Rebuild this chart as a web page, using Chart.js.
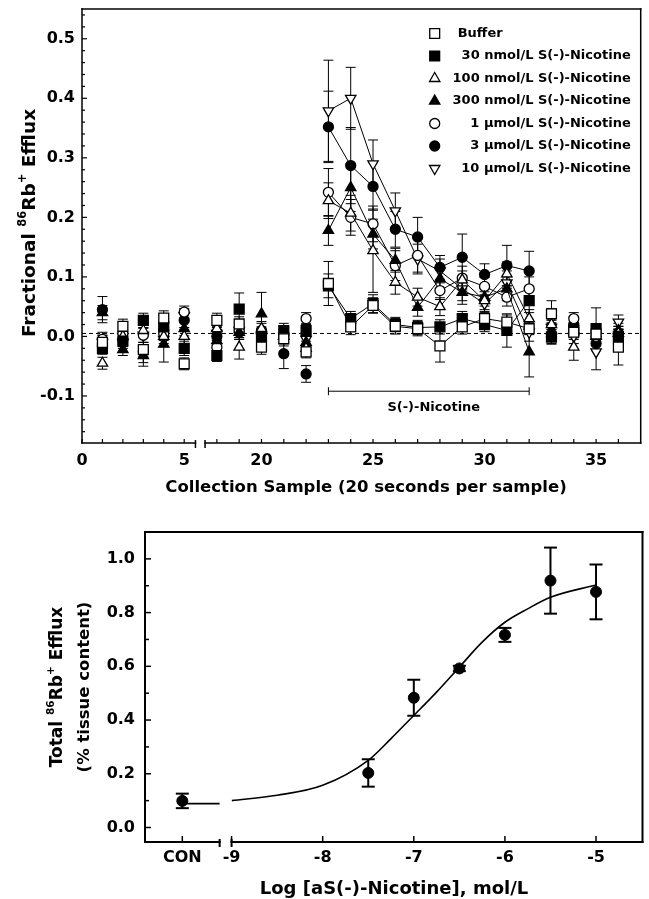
<!DOCTYPE html>
<html>
<head>
<meta charset="utf-8">
<title>86Rb+ efflux</title>
<script src="https://cdn.jsdelivr.net/npm/chart.js@4.4.1/dist/chart.umd.min.js"></script>
<style>
  body { margin: 0; background: #fff; }
  canvas { position: absolute; left: 0; }
  #effluxChart { top: 0; }
  #doseChart { top: 505px; }
</style>
</head>
<body>
<canvas id="effluxChart" width="649" height="505"></canvas>
<canvas id="doseChart" width="649" height="394"></canvas>
<script>
// ---------- TOP PANEL: fractional efflux per collection sample ----------
const samples = [1, 2, 3, 4, 5, 18, 19, 20, 21, 22, 23, 24, 25, 26, 27, 28, 29, 30, 31, 32, 33, 34, 35, 36];
const nicotineOn = 23;
const nicotineOff = 32;
const baselineLevel = 0.005;

const seriesLabels = ["Buffer", "30 nmol/L S(-)-Nicotine", "100 nmol/L S(-)-Nicotine", "300 nmol/L S(-)-Nicotine",
  "1 \u00b5mol/L S(-)-Nicotine", "3 \u00b5mol/L S(-)-Nicotine", "10 \u00b5mol/L S(-)-Nicotine"];

//                   1      2      3      4      5      18     19     20     21     22     23     24     25     26     27     28     29     30     31     32     33     34     35     36
const buffer      = [-0.010, 0.017,-0.022, 0.031,-0.046, 0.027, 0.021,-0.018,-0.004,-0.026, 0.089, 0.016, 0.052, 0.017, 0.013,-0.016, 0.016, 0.030, 0.024, 0.013, 0.038, 0.007, 0.004,-0.018];
const bufferErr   = [0.012, 0.012, 0.012, 0.012, 0.010, 0.012, 0.012, 0.012, 0.012, 0.010, 0.037, 0.013, 0.013, 0.013, 0.012, 0.027, 0.012, 0.012, 0.012, 0.010, 0.022, 0.012, 0.012, 0.030];
const nic30       = [-0.020,-0.008, 0.027, 0.016,-0.020,-0.032, 0.046, 0.000, 0.010, 0.010, 0.085, 0.030, 0.055, 0.020, 0.015, 0.016, 0.030, 0.020, 0.010, 0.060,-0.001, 0.010, 0.013, 0.000];
const nic30Err    = [0.010, 0.012, 0.012, 0.012, 0.012, 0.010, 0.027, 0.012, 0.012, 0.012, 0.020, 0.012, 0.015, 0.012, 0.012, 0.012, 0.012, 0.012, 0.028, 0.020, 0.012, 0.012, 0.035, 0.012];
const nic100      = [-0.045, 0.000, 0.010, 0.000, 0.000, 0.013,-0.018, 0.013, 0.000,-0.020, 0.228, 0.207, 0.144, 0.091, 0.066, 0.050, 0.095, 0.060, 0.105, 0.030, 0.020,-0.018, 0.000, 0.005];
const nic100Err   = [0.010, 0.012, 0.012, 0.012, 0.012, 0.012, 0.020, 0.012, 0.012, 0.012, 0.030, 0.030, 0.070, 0.020, 0.015, 0.015, 0.015, 0.015, 0.020, 0.015, 0.012, 0.022, 0.012, 0.012];
const nic300      = [0.040,-0.022,-0.032,-0.013, 0.013,-0.007, 0.007, 0.038, 0.000,-0.010, 0.178, 0.250, 0.172, 0.128, 0.049, 0.097, 0.074, 0.066, 0.080,-0.026, 0.010, 0.010, 0.000, 0.010];
const nic300Err   = [0.012, 0.010, 0.012, 0.030, 0.012, 0.012, 0.012, 0.036, 0.012, 0.012, 0.025, 0.040, 0.025, 0.020, 0.015, 0.020, 0.020, 0.015, 0.020, 0.042, 0.012, 0.012, 0.012, 0.012];
const nic1000     = [-0.005, 0.005, 0.002, 0.005, 0.041,-0.018, 0.010, 0.010, 0.000, 0.030, 0.242, 0.200, 0.189, 0.119, 0.136, 0.077, 0.098, 0.084, 0.066, 0.080, 0.035, 0.030, 0.000, 0.005];
const nic1000Err  = [0.012, 0.010, 0.012, 0.012, 0.010, 0.012, 0.012, 0.012, 0.012, 0.010, 0.040, 0.030, 0.030, 0.025, 0.028, 0.015, 0.020, 0.015, 0.015, 0.020, 0.012, 0.010, 0.012, 0.012];
const nic3000     = [0.045,-0.005,-0.025, 0.010, 0.027, 0.000, 0.007, 0.004,-0.029,-0.063, 0.352, 0.287, 0.252, 0.180, 0.167, 0.116, 0.133, 0.104, 0.119, 0.110, 0.000, 0.020,-0.012, 0.000];
const nic3000Err  = [0.022, 0.012, 0.025, 0.012, 0.012, 0.012, 0.012, 0.012, 0.025, 0.014, 0.060, 0.064, 0.040, 0.030, 0.033, 0.020, 0.039, 0.018, 0.034, 0.033, 0.012, 0.012, 0.012, 0.012];
const nic10000    = [-0.010, 0.000, 0.002,-0.005, 0.035, 0.005, 0.010, 0.000, 0.000,-0.005, 0.379, 0.400, 0.290, 0.211, 0.130, 0.110, 0.080, 0.055, 0.090, 0.007, 0.015, 0.000,-0.026, 0.024];
const nic10000Err = [0.012, 0.012, 0.012, 0.012, 0.012, 0.012, 0.012, 0.012, 0.012, 0.012, 0.085, 0.052, 0.040, 0.030, 0.025, 0.020, 0.020, 0.015, 0.020, 0.015, 0.012, 0.012, 0.030, 0.012];

const topYLabels = [-0.1, 0.0, 0.1, 0.2, 0.3, 0.4, 0.5];
const topXLabelsLeft = [0, 5];
const topXLabelsRight = [20, 25, 30, 35];

// ---------- BOTTOM PANEL: concentration-response ----------
const doseLogConc = [-7.5, -7, -6.5, -6, -5.5, -5];
const doseEfflux  = [0.203, 0.483, 0.592, 0.717, 0.919, 0.877];
const doseErr     = [0.051, 0.067, 0.010, 0.026, 0.123, 0.102];
const controlEfflux = 0.099;
const controlErr = 0.027;
const controlFit = 0.089;
// fitted curve
const fitLogConc = [-9, -8.5, -8, -7.5, -7.25, -7, -6.75, -6.5, -6.25, -6, -5.75, -5.5, -5];
const fitEfflux  = [0.100, 0.120, 0.157, 0.250, 0.331, 0.417, 0.504, 0.597, 0.690, 0.764, 0.814, 0.857, 0.903];

const doseYLabels = [0.0, 0.2, 0.4, 0.6, 0.8, 1.0];
const doseXLabels = [-9, -8, -7, -6, -5];

// ---------- shared bits ----------
const FONT = "'DejaVu Sans', sans-serif";
Chart.defaults.font.family = FONT;
Chart.defaults.font.weight = 'bold';
Chart.defaults.color = '#000';

function line(ctx, x1, y1, x2, y2){
  ctx.beginPath();
  ctx.moveTo(x1, y1);
  ctx.lineTo(x2, y2);
  ctx.stroke();
}

// text with superscripts, centred on (x, y)
function drawRich(ctx, parts, x, y, size, angle){
  ctx.save();
  ctx.translate(x, y);
  ctx.rotate(angle || 0);
  ctx.fillStyle = '#000';
  ctx.textBaseline = 'middle';
  ctx.textAlign = 'left';
  const fonts = parts.map(p => 'bold ' + (p.sup ? size * 0.62 : size) + 'px ' + FONT);
  let total = 0;
  parts.forEach((p, i) => { ctx.font = fonts[i]; total += ctx.measureText(p.t).width; });
  let cx = -total / 2;
  parts.forEach((p, i) => {
    ctx.font = fonts[i];
    ctx.fillText(p.t, cx, p.sup ? -size * 0.38 : 0);
    cx += ctx.measureText(p.t).width;
  });
  ctx.restore();
}

// axis box whose bottom edge is broken between two stacked x scales
function drawBrokenFrame(chart, leftId, rightId, breakValue, lw){
  const ctx = chart.ctx, a = chart.chartArea;
  const bx1 = chart.scales[leftId].getPixelForValue(breakValue);
  const bx2 = chart.scales[rightId].left;
  ctx.save();
  ctx.strokeStyle = '#000';
  ctx.lineWidth = lw;
  ctx.lineCap = 'square';
  line(ctx, a.left, a.bottom, a.left, a.top);
  line(ctx, a.left, a.top, a.right, a.top);
  line(ctx, a.right, a.top, a.right, a.bottom);
  line(ctx, a.left, a.bottom, bx1, a.bottom);
  line(ctx, bx2, a.bottom, a.right, a.bottom);
  ctx.lineCap = 'butt';
  line(ctx, bx1, a.bottom - 3, bx1, a.bottom + 5);
  line(ctx, bx2, a.bottom - 3, bx2, a.bottom + 5);
  ctx.restore();
}

function errorBarPlugin(cap, width){
  return {
    id: 'errorBars',
    beforeDatasetsDraw(chart){
      const ctx = chart.ctx;
      ctx.save();
      ctx.strokeStyle = '#000';
      ctx.lineWidth = width;
      chart.data.datasets.forEach((ds, i) => {
        const meta = chart.getDatasetMeta(i);
        const yScale = chart.scales[meta.yAxisID];
        ds.data.forEach((p, j) => {
          if (!p.err) return;
          const x = meta.data[j].x;
          const hi = yScale.getPixelForValue(p.y + p.err);
          const lo = yScale.getPixelForValue(p.y - p.err);
          line(ctx, x, hi, x, lo);
          line(ctx, x - cap, hi, x + cap, hi);
          line(ctx, x - cap, lo, x + cap, lo);
        });
      });
      ctx.restore();
    }
  };
}

// y axis: fixed width, no extra label padding above/below the plot
function fixedWidth(w){
  return s => { s.width = w; s.paddingTop = 0; s.paddingBottom = 0; };
}

// ---------- TOP CHART ----------
const series = [
  { label: seriesLabels[0], values: buffer,   errors: bufferErr,   style: 'rect',     filled: false, radius: 7 },
  { label: seriesLabels[1], values: nic30,    errors: nic30Err,    style: 'rect',     filled: true,  radius: 7 },
  { label: seriesLabels[2], values: nic100,   errors: nic100Err,   style: 'triangle', filled: false, radius: 6 },
  { label: seriesLabels[3], values: nic300,   errors: nic300Err,   style: 'triangle', filled: true,  radius: 6 },
  { label: seriesLabels[4], values: nic1000,  errors: nic1000Err,  style: 'circle',   filled: false, radius: 5 },
  { label: seriesLabels[5], values: nic3000,  errors: nic3000Err,  style: 'circle',   filled: true,  radius: 5 },
  { label: seriesLabels[6], values: nic10000, errors: nic10000Err, style: 'triangle', filled: false, radius: 6, rotation: 180 }
];

const effluxDatasets = [];
series.forEach(s => {
  const before = [], after = [];
  samples.forEach((x, i) => {
    const p = { x: x, y: s.values[i], err: s.errors[i] };
    if (x < 10) before.push(p); else after.push(p);
  });
  const look = {
    label: s.label,
    pointStyle: s.style,
    pointRotation: s.rotation || 0,
    pointRadius: s.radius,
    pointBackgroundColor: s.filled ? '#000' : '#fff',
    pointBorderColor: '#000',
    pointBorderWidth: 1.3,
    borderColor: '#000',
    borderWidth: 1
  };
  effluxDatasets.push(Object.assign({}, look, { xAxisID: 'xLeft', data: before, showLine: false }));
  effluxDatasets.push(Object.assign({}, look, {
    xAxisID: 'xRight', data: after, showLine: true,
    segment: {
      borderColor: c => (c.p0.parsed.x >= nicotineOn && c.p1.parsed.x <= nicotineOff) ? '#000' : 'rgba(0,0,0,0)'
    }
  }));
});

const effluxDecor = {
  id: 'effluxDecor',
  beforeDatasetsDraw(chart){
    const ctx = chart.ctx, a = chart.chartArea;
    const y = chart.scales.y.getPixelForValue(baselineLevel);
    ctx.save();
    ctx.strokeStyle = '#000';
    ctx.lineWidth = 1;
    ctx.setLineDash([4, 3]);
    line(ctx, a.left, y, a.right, y);
    ctx.restore();
  },
  afterDraw(chart){
    const ctx = chart.ctx, a = chart.chartArea;
    const ys = chart.scales.y, xl = chart.scales.xLeft, xr = chart.scales.xRight;
    drawBrokenFrame(chart, 'xLeft', 'xRight', 5.55, 1.5);

    ctx.save();
    ctx.strokeStyle = '#000';
    ctx.lineWidth = 1.2;
    // inward ticks
    for (let k = -8; k <= 27; k++){
      const py = ys.getPixelForValue(k * 0.02);
      line(ctx, a.left, py, a.left + (k % 5 === 0 ? 5 : 3), py);
    }
    for (let v = 0; v <= 5; v++){
      const px = xl.getPixelForValue(v);
      line(ctx, px, a.bottom, px, a.bottom - 4);
    }
    for (let v = 18; v <= 36; v++){
      const px = xr.getPixelForValue(v);
      line(ctx, px, a.bottom, px, a.bottom - 4);
    }

    // nicotine application bracket
    const bx1 = xr.getPixelForValue(nicotineOn), bx2 = xr.getPixelForValue(nicotineOff);
    const by = ys.getPixelForValue(-0.092);
    ctx.lineWidth = 1;
    line(ctx, bx1, by, bx2, by);
    line(ctx, bx1, by - 4, bx1, by + 4);
    line(ctx, bx2, by - 4, bx2, by + 4);
    ctx.fillStyle = '#000';
    ctx.font = 'bold 13px ' + FONT;
    ctx.textAlign = 'center';
    ctx.textBaseline = 'middle';
    ctx.fillText('S(-)-Nicotine', (bx1 + bx2) / 2 + 5, by + 16);

    // legend
    series.forEach((s, i) => {
      const y = a.top + 24.5 + i * 22.5;
      ctx.fillStyle = s.filled ? '#000' : '#fff';
      ctx.strokeStyle = '#000';
      ctx.lineWidth = 1.3;
      Chart.helpers.drawPoint(ctx, { pointStyle: s.style, rotation: s.rotation || 0, radius: s.radius, borderWidth: 1.3 }, a.right - 206, y);
      ctx.fillStyle = '#000';
      ctx.font = 'bold 13px ' + FONT;
      if (i === 0){ ctx.textAlign = 'left'; ctx.fillText(s.label, a.right - 183, y); }
      else { ctx.textAlign = 'right'; ctx.fillText(s.label, a.right - 10, y); }
    });
    ctx.restore();

    // axis titles
    drawRich(ctx, [{ t: 'Collection Sample (20 seconds per sample)' }], 366, 488, 16.5, 0);
    drawRich(ctx, [{ t: 'Fractional ' }, { t: '86', sup: true }, { t: 'Rb' }, { t: '+', sup: true }, { t: ' Efflux' }], 30, 223, 18.5, -Math.PI / 2);
  }
};

const noGrid = { display: false, drawTicks: false };

new Chart(document.getElementById('effluxChart'), {
  type: 'scatter',
  data: { datasets: effluxDatasets },
  options: {
    responsive: false,
    animation: false,
    events: [],
    layout: { padding: { top: 9, right: 4, left: 0, bottom: 0 } },
    plugins: { legend: { display: false }, tooltip: { enabled: false } },
    scales: {
      xLeft: {
        type: 'linear', position: 'bottom', stack: 'sample', stackWeight: 124,
        min: 0, max: 6.02,
        grid: noGrid, border: { display: false },
        afterBuildTicks: s => { s.ticks = topXLabelsLeft.map(v => ({ value: v })); },
        ticks: { padding: 8, autoSkip: false, maxRotation: 0, font: { size: 16, weight: 'bold' }, callback: v => String(v) },
        afterFit: s => { s.height = 62; }
      },
      xRight: {
        type: 'linear', position: 'bottom', stack: 'sample', stackWeight: 439,
        min: 17.47, max: 37,
        grid: noGrid, border: { display: false },
        afterBuildTicks: s => { s.ticks = topXLabelsRight.map(v => ({ value: v })); },
        ticks: { padding: 8, autoSkip: false, maxRotation: 0, font: { size: 16, weight: 'bold' }, callback: v => String(v) },
        afterFit: s => { s.height = 62; }
      },
      y: {
        type: 'linear', position: 'left',
        min: -0.179, max: 0.55,
        grid: noGrid, border: { display: false },
        afterBuildTicks: s => { s.ticks = topYLabels.map(v => ({ value: v })); },
        ticks: { padding: 7, autoSkip: false, font: { size: 16, weight: 'bold' }, callback: v => v.toFixed(1) },
        afterFit: fixedWidth(82)
      }
    }
  },
  plugins: [errorBarPlugin(5, 1), effluxDecor]
});

// ---------- BOTTOM CHART ----------
const conPos = 0.5;     // where CON sits on the short left axis
const conBreak = 1.0;   // end of the short left axis segment

const doseDecor = {
  id: 'doseDecor',
  afterDraw(chart){
    const ctx = chart.ctx, a = chart.chartArea;
    const ys = chart.scales.y, xc = chart.scales.xc, xl = chart.scales.xl;
    drawBrokenFrame(chart, 'xc', 'xl', conBreak, 2);

    ctx.save();
    ctx.strokeStyle = '#000';
    ctx.lineWidth = 1.5;
    for (let k = 0; k <= 10; k++){
      const py = ys.getPixelForValue(k * 0.1);
      line(ctx, a.left, py, a.left + (k % 2 === 0 ? 6 : 4), py);
    }
    const cx = xc.getPixelForValue(conPos);
    line(ctx, cx, a.bottom, cx, a.bottom - 6);
    doseXLabels.forEach(v => {
      const px = xl.getPixelForValue(v);
      line(ctx, px, a.bottom, px, a.bottom - 6);
    });
    ctx.restore();

    drawRich(ctx, [{ t: 'Total ' }, { t: '86', sup: true }, { t: 'Rb' }, { t: '+', sup: true }, { t: ' Efflux' }], 58, 182, 17, -Math.PI / 2);
    drawRich(ctx, [{ t: '(% tissue content)' }], 85, 182, 16.5, -Math.PI / 2);
    drawRich(ctx, [{ t: 'Log [aS(-)-Nicotine], mol/L' }], 394, 384, 18, 0);
  }
};

new Chart(document.getElementById('doseChart'), {
  type: 'scatter',
  data: {
    datasets: [
      {
        label: 'CON',
        xAxisID: 'xc',
        data: [{ x: conPos, y: controlEfflux, err: controlErr }],
        pointStyle: 'circle', pointRadius: 5.5, pointBackgroundColor: '#000', pointBorderColor: '#000'
      },
      {
        label: 'S(-)-Nicotine',
        xAxisID: 'xl',
        data: doseLogConc.map((x, i) => ({ x: x, y: doseEfflux[i], err: doseErr[i] })),
        pointStyle: 'circle', pointRadius: 5.5, pointBackgroundColor: '#000', pointBorderColor: '#000'
      },
      {
        label: 'fit',
        xAxisID: 'xl',
        data: fitLogConc.map((x, i) => ({ x: x, y: fitEfflux[i] })),
        showLine: true, pointRadius: 0, borderColor: '#000', borderWidth: 1.6,
        cubicInterpolationMode: 'monotone'
      },
      {
        label: 'fit CON',
        xAxisID: 'xc',
        data: [{ x: conPos, y: controlFit }, { x: conBreak, y: controlFit }],
        showLine: true, pointRadius: 0, borderColor: '#000', borderWidth: 1.6
      }
    ]
  },
  options: {
    responsive: false,
    animation: false,
    events: [],
    layout: { padding: { top: 27, right: 4, left: 0, bottom: 0 } },
    plugins: { legend: { display: false }, tooltip: { enabled: false } },
    scales: {
      xc: {
        type: 'linear', position: 'bottom', stack: 'conc', stackWeight: 87,
        min: 0, max: 1.16,
        grid: noGrid, border: { display: false },
        afterBuildTicks: s => { s.ticks = [{ value: conPos }]; },
        ticks: { padding: 6, autoSkip: false, maxRotation: 0, font: { size: 16, weight: 'bold' }, callback: () => 'CON' },
        afterFit: s => { s.height = 57; }
      },
      xl: {
        type: 'linear', position: 'bottom', stack: 'conc', stackWeight: 413,
        min: -9, max: -4.49,
        grid: noGrid, border: { display: false },
        afterBuildTicks: s => { s.ticks = doseXLabels.map(v => ({ value: v })); },
        ticks: { padding: 6, autoSkip: false, maxRotation: 0, font: { size: 16, weight: 'bold' }, callback: v => String(v) },
        afterFit: s => { s.height = 57; }
      },
      y: {
        type: 'linear', position: 'left',
        min: -0.054, max: 1.1,
        grid: noGrid, border: { display: false },
        afterBuildTicks: s => { s.ticks = doseYLabels.map(v => ({ value: v })); },
        ticks: { padding: 10, autoSkip: false, font: { size: 16, weight: 'bold' }, callback: v => v.toFixed(1) },
        afterFit: fixedWidth(145)
      }
    }
  },
  plugins: [errorBarPlugin(6.5, 2), doseDecor]
});
</script>
</body>
</html>
